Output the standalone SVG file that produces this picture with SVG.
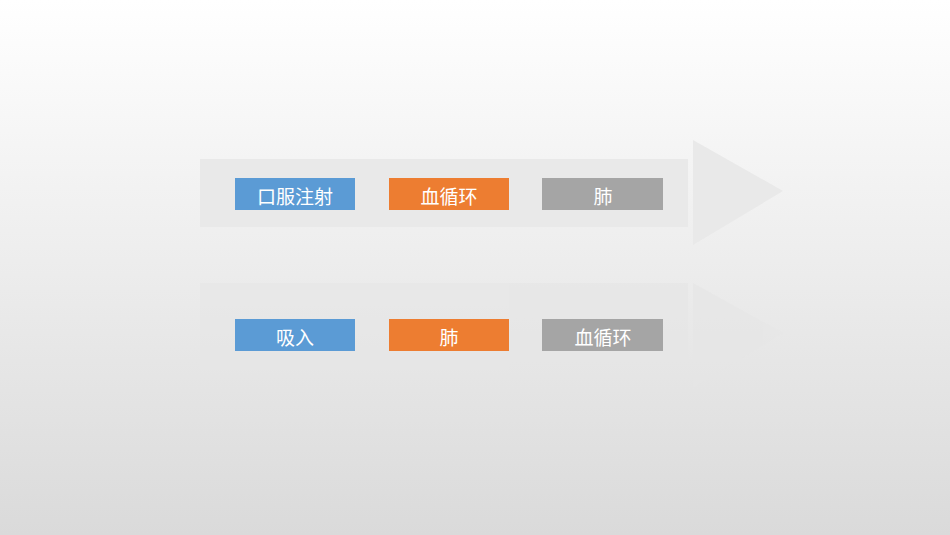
<svg xmlns="http://www.w3.org/2000/svg" width="950" height="535" viewBox="0 0 950 535">
<defs>
<linearGradient id="bg" x1="0" y1="0" x2="0" y2="1">
<stop offset="0" stop-color="#ffffff"/><stop offset="1" stop-color="#dadada"/>
</linearGradient>
<style>
text{font-family:"Noto Sans CJK SC","Liberation Sans",sans-serif;font-size:19px;fill:#fff;text-anchor:middle;dominant-baseline:central}
.b{fill:#5b9bd5}.o{fill:#ed7d31}.g{fill:#a5a5a5}
</style>
</defs>
<rect width="950" height="535" fill="url(#bg)"/>
<g id="arrow1" fill="#e9e9e9">
<rect x="200" y="159" width="488" height="68"/>
<polygon points="693,140 783,191 693,245"/>
</g>
<g id="arrow2" fill="#e6e6e6" opacity="0.6">
<rect x="200" y="283" width="488" height="87"/>
<polygon points="693,283 783,333 693,388"/>
</g>
<g id="n1"><rect class="b" x="235" y="178" width="120" height="32"/><text x="295" y="195">口服注射</text></g>
<g id="n2"><rect class="o" x="389" y="178" width="120" height="32"/><text x="449" y="195">血循环</text></g>
<g id="n3"><rect class="g" x="542" y="178" width="121" height="32"/><text x="603" y="195">肺</text></g>
<g id="n4"><rect class="b" x="235" y="319" width="120" height="32"/><text x="295" y="336">吸入</text></g>
<g id="n5"><rect class="o" x="389" y="319" width="120" height="32"/><text x="449" y="336">肺</text></g>
<g id="n6"><rect class="g" x="542" y="319" width="121" height="32"/><text x="603" y="336">血循环</text></g>
<g id="connectors"></g>
</svg>
